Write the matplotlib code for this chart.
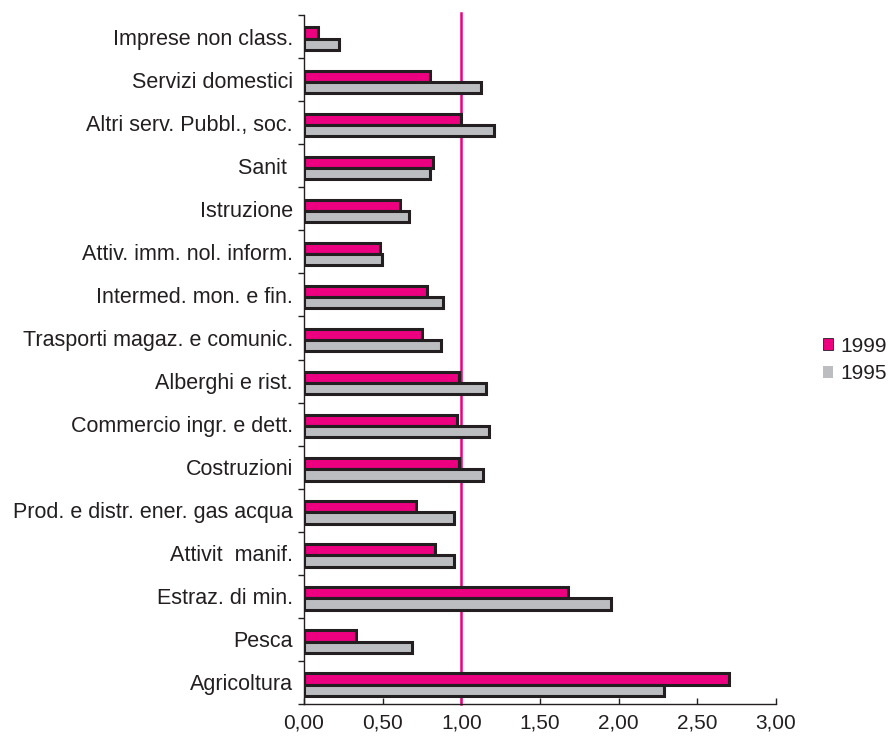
import matplotlib
matplotlib.use("Agg")
import matplotlib.pyplot as plt
from matplotlib.patches import Patch
import numpy as np

plt.rcParams['font.family'] = ['Liberation Sans', 'DejaVu Sans']

# Sectors, bottom to top
categories = [
    "Agricoltura",
    "Pesca",
    "Estraz. di min.",
    "Attivit  manif.",
    "Prod. e distr. ener. gas acqua",
    "Costruzioni",
    "Commercio ingr. e dett.",
    "Alberghi e rist.",
    "Trasporti magaz. e comunic.",
    "Intermed. mon. e fin.",
    "Attiv. imm. nol. inform.",
    "Istruzione",
    "Sanit ",
    "Altri serv. Pubbl., soc.",
    "Servizi domestici",
    "Imprese non class.",
]
values_1999 = [2.70, 0.33, 1.68, 0.83, 0.71, 0.985, 0.97, 0.985, 0.75, 0.78,
               0.48, 0.61, 0.82, 1.00, 0.80, 0.09]
values_1995 = [2.29, 0.685, 1.95, 0.955, 0.955, 1.14, 1.175, 1.155, 0.87, 0.885,
               0.495, 0.665, 0.80, 1.21, 1.125, 0.225]
xtick_values = [0.0, 0.5, 1.0, 1.5, 2.0, 2.5, 3.0]
xtick_labels = ["0,00", "0,50", "1,00", "1,50", "2,00", "2,50", "3,00"]
reference_level = 1.0
series_labels = ["1999", "1995"]

magenta = "#EC0080"
grey = "#BCBDC0"
dark = "#231F20"

fig = plt.figure(figsize=(8.89, 7.40), dpi=100)
ax = fig.add_axes([304 / 889, 1 - 704 / 740, (776 - 304) / 889, (704 - 15) / 740])

y = np.arange(len(categories))
h = 0.26
shift = -0.05
ax.barh(y + shift + h / 2, values_1999, height=h, color=magenta,
        edgecolor=dark, linewidth=2.2, zorder=3)
ax.barh(y + shift - h / 2, values_1995, height=h, color=grey,
        edgecolor=dark, linewidth=2.2, zorder=3)

ax.axvline(reference_level, color=magenta, linewidth=1.8, zorder=2,
           ymin=0, ymax=1.003, clip_on=False)

ax.set_xlim(0, 3.0)
ax.set_ylim(-0.5, len(categories) - 0.5)

ax.set_xticks(xtick_values)
ax.set_xticklabels(xtick_labels, fontsize=15, color=dark)
ax.tick_params(axis='x', direction='in', length=4, width=1, color=dark, pad=7)

# Category labels centred on each band, tick marks on the band boundaries
ax.set_yticks(y)
ax.set_yticklabels(categories, fontsize=15.5, color=dark)
ax.tick_params(axis='y', which='major', length=0, pad=8)
ax.set_yticks(np.arange(-0.5, len(categories) + 0.5, 1.0), minor=True)
ax.tick_params(axis='y', which='minor', direction='out', length=4, width=1, color=dark)

for side in ("top", "right"):
    ax.spines[side].set_visible(False)
for side in ("left", "bottom"):
    ax.spines[side].set_color(dark)
    ax.spines[side].set_linewidth(1.0)

handles = [Patch(facecolor=magenta, edgecolor=dark, linewidth=0.6),
           Patch(facecolor=grey, edgecolor="none")]
fig.legend(handles, series_labels, loc="center left",
           bbox_to_anchor=(823 / 889, 1 - 360 / 740), frameon=False,
           fontsize=15, handlelength=0.48, handleheight=0.48,
           handletextpad=0.34, labelspacing=0.42, labelcolor=dark,
           borderaxespad=0, borderpad=0)

fig.savefig("out.png", dpi=100)
